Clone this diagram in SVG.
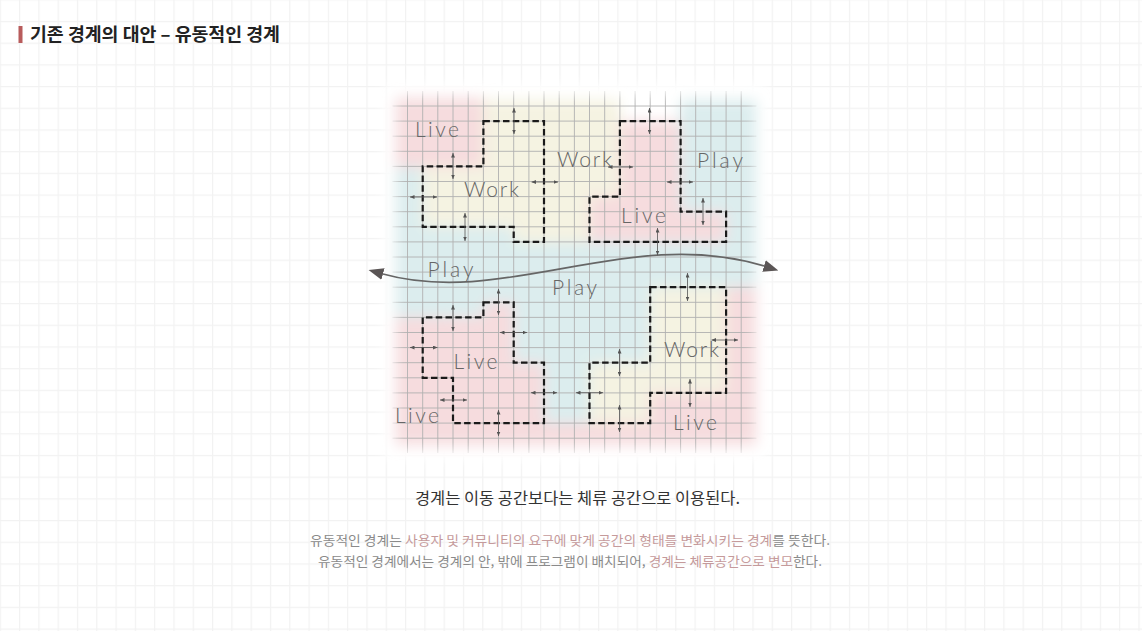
<svg xmlns="http://www.w3.org/2000/svg" width="1142" height="631" viewBox="0 0 1142 631">
<defs>
<style>
.lbl{font-family:Lato,"Open Sans","DejaVu Sans",sans-serif;font-weight:300;font-size:21px;fill:#666;}
.kr{font-family:"Noto Sans CJK KR","Noto Sans",sans-serif;}
.bnd{fill:none;stroke:#1a1a1a;stroke-width:2.2;stroke-dasharray:6.5 3.3;}
.sa{fill:none;stroke:#555;stroke-width:0.8;marker-start:url(#sh);marker-end:url(#sh);}
.gray{fill:#8a8a8a;}
.pink{fill:#c59a9b;}
</style>
<pattern id="bg" patternUnits="userSpaceOnUse" x="19" y="20.9" width="19.3" height="21.7">
<rect x="0" y="0" width="1.2" height="21.7" fill="#f2f2f2"/>
<rect x="0" y="0" width="19.3" height="1.2" fill="#f2f2f2"/>
</pattern>
<filter id="soft" filterUnits="userSpaceOnUse" x="360" y="70" width="420" height="400">
<feGaussianBlur stdDeviation="7"/>
</filter>
<filter id="soft2" filterUnits="userSpaceOnUse" x="340" y="60" width="460" height="420">
<feGaussianBlur stdDeviation="6"/>
</filter>
<mask id="fade" maskUnits="userSpaceOnUse" x="370" y="70" width="410" height="400">
<rect x="396" y="94" width="357" height="356" fill="#fff" filter="url(#soft2)"/>
</mask>
<marker id="sh" markerUnits="userSpaceOnUse" markerWidth="4.5" markerHeight="4" refX="4.5" refY="2" orient="auto-start-reverse" viewBox="0 0 4.5 4">
<path d="M0,0 L4.5,2 L0,4 Z" fill="#555"/>
</marker>
<marker id="bh" markerUnits="userSpaceOnUse" markerWidth="15" markerHeight="12" refX="0" refY="6" orient="auto-start-reverse" viewBox="0 0 15 12">
<path d="M0,0 L15,6 L0,12 Z" fill="#5a5555"/>
</marker>
</defs>

<g id="background">
<rect width="1142" height="631" fill="#fff"/>
<rect width="1142" height="631" fill="url(#bg)"/>
<rect x="384" y="84" width="382" height="376" fill="#fff" filter="url(#soft2)"/>
</g>

<g id="title">
<rect x="18.5" y="26" width="4" height="17" fill="#b85c5c"/>
<text class="kr" x="30" y="41" font-size="18" font-weight="700" fill="#222" textLength="250" lengthAdjust="spacingAndGlyphs">기존 경계의 대안 – 유동적인 경계</text>
</g>

<g id="regions" filter="url(#soft)">
<g fill="#dcedee">
<rect x="680" y="100" width="76" height="142"/>
<rect x="396" y="167" width="27" height="75"/>
<rect x="396" y="227" width="360" height="75"/>
<rect x="396" y="287" width="330" height="30"/>
<rect x="513.7" y="287" width="136.5" height="75.7"/>
<rect x="544" y="362" width="45.5" height="61"/>
</g>
<g fill="#f5f3e2">
<path d="M483.4 121.1 H544 V241.9 H513.7 V226.8 H422.7 V166.4 H483.4 Z"/>
<rect x="483" y="100" width="137" height="97"/>
<rect x="544" y="196" width="45.5" height="46"/>
<path d="M650.2 287.2 H726.1 V392.9 H650.2 V423.1 H589.5 V362.7 H650.2 Z"/>
</g>
<g fill="#f6dcde">
<rect x="396" y="98" width="87" height="69"/>
<path d="M619.9 121.1 H680.6 V211.7 H726.1 V241.9 H589.5 V196.6 H619.9 Z"/>
<rect x="396" y="317" width="57" height="128"/>
<path d="M483.4 302.3 H513.7 V362.7 H544 V423.1 H453 V377.8 H422.7 V317.4 H483.4 Z"/>
<rect x="396" y="423" width="360" height="22"/>
<rect x="650" y="393" width="106" height="52"/>
<rect x="726" y="287" width="30" height="158"/>
</g>
</g>

<g id="diagram-grid" mask="url(#fade)" fill="none" stroke="#b0b0b0" stroke-width="0.9">
<path d="M407.5 91V453M422.7 91V453M437.8 91V453M453 91V453M468.2 91V453M483.4 91V453M498.5 91V453M513.7 91V453M528.9 91V453M544 91V453M559.2 91V453M574.4 91V453M589.5 91V453M604.7 91V453M619.9 91V453M635.1 91V453M650.2 91V453M665.4 91V453M680.6 91V453M695.7 91V453M710.9 91V453M726.1 91V453M741.2 91V453"/>
<path d="M392.5 106H756.5M392.5 121.1H756.5M392.5 136.2H756.5M392.5 151.3H756.5M392.5 166.4H756.5M392.5 181.5H756.5M392.5 196.6H756.5M392.5 211.7H756.5M392.5 226.8H756.5M392.5 241.9H756.5M392.5 257H756.5M392.5 272.1H756.5M392.5 287.2H756.5M392.5 302.3H756.5M392.5 317.4H756.5M392.5 332.5H756.5M392.5 347.6H756.5M392.5 362.7H756.5M392.5 377.8H756.5M392.5 392.9H756.5M392.5 408H756.5M392.5 423.1H756.5M392.5 438.2H756.5"/>
</g>

<g id="node-work-a">
<path class="bnd" d="M483.4 121.1 H544 V241.9 H513.7 V226.8 H422.7 V166.4 H483.4 Z"/>
<text class="lbl" x="464" y="196.5" textLength="55" lengthAdjust="spacing">Work</text>
</g>
<g id="node-live-b">
<path class="bnd" d="M619.9 121.1 H680.6 V211.7 H726.1 V241.9 H589.5 V196.6 H619.9 Z"/>
<text class="lbl" x="621" y="222.5" textLength="45" lengthAdjust="spacing">Live</text>
</g>
<g id="node-live-c">
<path class="bnd" d="M483.4 302.3 H513.7 V362.7 H544 V423.1 H453 V377.8 H422.7 V317.4 H483.4 Z"/>
<text class="lbl" x="453.5" y="369" textLength="44" lengthAdjust="spacing">Live</text>
</g>
<g id="node-work-d">
<path class="bnd" d="M650.2 287.2 H726.1 V392.9 H650.2 V423.1 H589.5 V362.7 H650.2 Z"/>
<text class="lbl" x="664" y="356.5" textLength="55" lengthAdjust="spacing">Work</text>
</g>

<g id="area-labels">
<text class="lbl" x="415" y="136.5" textLength="44" lengthAdjust="spacing">Live</text>
<text class="lbl" x="557" y="167" textLength="55" lengthAdjust="spacing">Work</text>
<text class="lbl" x="697" y="168" textLength="46" lengthAdjust="spacing">Play</text>
<text class="lbl" x="427.5" y="277" textLength="46" lengthAdjust="spacing">Play</text>
<text class="lbl" x="552" y="295" textLength="45" lengthAdjust="spacing">Play</text>
<text class="lbl" x="395" y="423" textLength="44" lengthAdjust="spacing">Live</text>
<text class="lbl" x="673" y="430" textLength="44" lengthAdjust="spacing">Live</text>
</g>

<g id="connectors">
<path d="M383 274 C505 308 630 225 764 266" fill="none" stroke="#666" stroke-width="1.7" marker-start="url(#bh)" marker-end="url(#bh)"/>
<path class="sa" d="M514 108V134"/>
<path class="sa" d="M453 153V179"/>
<path class="sa" d="M465 213V241"/>
<path class="sa" d="M649.5 108V134"/>
<path class="sa" d="M703 198V225"/>
<path class="sa" d="M657.5 228V255"/>
<path class="sa" d="M498.5 289V315"/>
<path class="sa" d="M453 305V331"/>
<path class="sa" d="M498.5 410V436"/>
<path class="sa" d="M687.5 273V301"/>
<path class="sa" d="M619.5 349V376"/>
<path class="sa" d="M619.5 405V432"/>
<path class="sa" d="M690 379V407"/>
<path class="sa" d="M410 197H437"/>
<path class="sa" d="M531.5 182H558"/>
<path class="sa" d="M608 167H633"/>
<path class="sa" d="M667 182H693"/>
<path class="sa" d="M500 332.5H527"/>
<path class="sa" d="M410 347.5H437.5"/>
<path class="sa" d="M531 392.7H557"/>
<path class="sa" d="M576 392.7H603"/>
<path class="sa" d="M440 400H467"/>
<path class="sa" d="M711.5 340H738"/>
</g>

<g id="captions" class="kr">
<text x="415" y="503.5" font-size="15.5" fill="#333" textLength="325" lengthAdjust="spacingAndGlyphs">경계는 이동 공간보다는 체류 공간으로 이용된다.</text>
<text x="310" y="545" font-size="13" textLength="520" lengthAdjust="spacingAndGlyphs"><tspan class="gray">유동적인 경계는 </tspan><tspan class="pink">사용자 및 커뮤니티의 요구에 맞게 공간의 형태를 변화시키는 경계</tspan><tspan class="gray">를 뜻한다.</tspan></text>
<text x="318" y="566" font-size="13" textLength="504" lengthAdjust="spacingAndGlyphs"><tspan class="gray">유동적인 경계에서는 경계의 안, 밖에 프로그램이 배치되어, </tspan><tspan class="pink">경계는 체류공간으로 변모</tspan><tspan class="gray">한다.</tspan></text>
</g>
</svg>
